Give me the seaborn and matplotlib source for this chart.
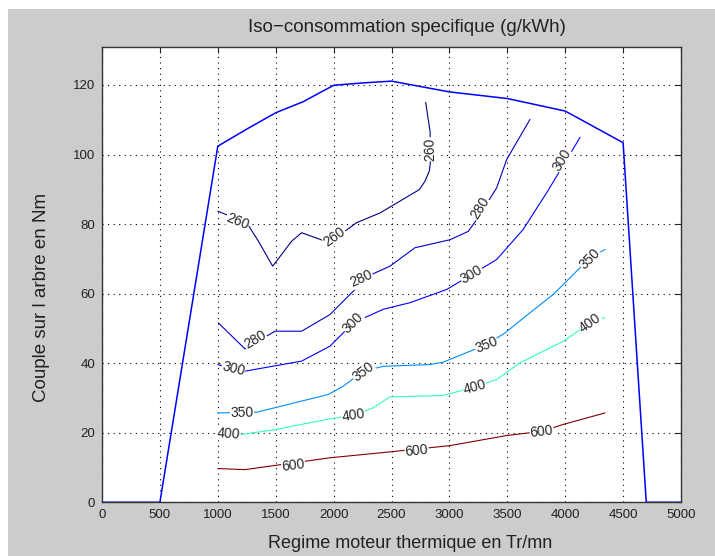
import numpy as np
import pandas as pd
import seaborn as sns
import matplotlib
matplotlib.use("Agg")
import matplotlib.pyplot as plt
from matplotlib.patches import Rectangle

# ---- data ----
# full load curve (couple max)
full_rpm = [0, 500, 1000, 1250, 1500, 1738, 2000, 2257, 2500, 3000, 3500, 4000, 4500, 4700, 5000]
full_nm = [0, 0, 102.4, 107.3, 112.0, 115.2, 119.9, 120.6, 121.1, 118.0, 116.1, 112.5, 103.4, 0, 0]

# iso-consumption lines (g/kWh)
levels = [260, 280, 300, 350, 400, 600]

rpm_260 = [1000, 1250, 1350, 1474, 1638, 1724, 1926, 2000, 2199, 2401, 2740, 2789, 2827, 2838, 2833, 2795]
nm_260 = [83.7, 80.4, 75.1, 67.9, 75.1, 77.5, 75.1, 75.6, 80.4, 83.2, 89.9, 92.3, 95.3, 98.6, 106.7, 115.0]

rpm_280 = [1004, 1235, 1494, 1724, 1969, 2185, 2228, 2487, 2703, 3005, 3163, 3236, 3408, 3495, 3696]
nm_280 = [51.6, 44.1, 49.2, 49.2, 54.0, 61.2, 64.0, 67.9, 73.2, 75.5, 77.9, 81.3, 90.4, 98.6, 110.1]

rpm_300 = [1000, 1235, 1724, 1969, 2170, 2429, 2660, 2977, 3408, 3638, 3840, 4128]
nm_300 = [39.6, 37.7, 40.6, 44.9, 51.6, 55.5, 57.4, 61.2, 69.8, 78.5, 89.0, 104.9]

rpm_350 = [1000, 1336, 1724, 1954, 2084, 2256, 2429, 2832, 2947, 3322, 3480, 3696, 3898, 4214, 4344]
nm_350 = [25.7, 25.9, 29.1, 31.0, 33.4, 37.7, 39.1, 39.6, 40.3, 45.4, 48.7, 54.5, 59.8, 70.3, 72.7]

rpm_400 = [1000, 1206, 1494, 1969, 2170, 2343, 2487, 2947, 3221, 3408, 3610, 3984, 4214, 4344]
nm_400 = [20.0, 19.5, 20.9, 24.0, 25.0, 27.2, 30.3, 30.7, 33.2, 35.3, 40.1, 46.3, 51.6, 53.1]

rpm_600 = [1000, 1235, 1494, 1969, 2487, 3005, 3495, 3797, 3984, 4344]
nm_600 = [9.7, 9.4, 10.6, 12.8, 14.5, 16.3, 19.2, 20.4, 22.4, 25.7]

# where the inline labels sit (rpm, Nm)
lab_260 = [(1170, 80.8), (2010, 76.3), (2836, 101.5)]
lab_280 = [(1320, 46.8), (2240, 64.3), (3262, 84.5)]
lab_300 = [(1134, 38.3), (2170, 51.6), (3190, 65.6), (3968, 98.5)]
lab_350 = [(1210, 25.8), (2256, 37.6), (3320, 45.2), (4214, 70.0)]
lab_400 = [(1095, 19.8), (2170, 25.0), (3221, 33.1), (4214, 51.6)]
lab_600 = [(1652, 10.6), (2718, 14.9), (3797, 20.4)]

iso = {
    260: (rpm_260, nm_260, lab_260),
    280: (rpm_280, nm_280, lab_280),
    300: (rpm_300, nm_300, lab_300),
    350: (rpm_350, nm_350, lab_350),
    400: (rpm_400, nm_400, lab_400),
    600: (rpm_600, nm_600, lab_600),
}

sns.set_style("white")
plt.rcParams['font.family'] = ['Liberation Sans', 'DejaVu Sans']

fig = plt.figure(figsize=(7.15, 5.56), dpi=100)
fig.patch.set_facecolor("white")
fig.add_artist(Rectangle((8 / 715, 0), 1, 1 - 9 / 556, transform=fig.transFigure,
                         facecolor="#cccccc", edgecolor="none", zorder=-10))

ax = fig.add_axes([102 / 715, 1 - 502.3 / 556, 579 / 715, 455.6 / 556])
ax.set_facecolor("white")
ax.set_xlim(0, 5000)
ax.set_ylim(0, 131)

# MATLAB jet colours for the levels
cmap = plt.get_cmap("jet")
norm = plt.Normalize(min(levels), max(levels))

sns.lineplot(x=full_rpm, y=full_nm, sort=False, estimator=None, color="#0000ff",
             linewidth=1.1, ax=ax, zorder=3)

for lev in levels:
    xs, ys, labs = iso[lev]
    sns.lineplot(x=xs, y=ys, sort=False, estimator=None, color=cmap(norm(lev)),
                 linewidth=0.8, ax=ax, zorder=3)


def line_angle(xs, ys, px, py):
    pts = ax.transData.transform(np.column_stack([xs, ys]))
    p = ax.transData.transform((px, py))
    best, ang = 1e9, 0
    for i in range(len(pts) - 1):
        a, b = pts[i], pts[i + 1]
        ab = b - a
        t = np.clip(np.dot(p - a, ab) / max(np.dot(ab, ab), 1e-9), 0, 1)
        d = np.hypot(*(a + t * ab - p))
        if d < best:
            best = d
            ang = np.degrees(np.arctan2(ab[1], ab[0]))
    if ang > 90:
        ang -= 180
    if ang < -90:
        ang += 180
    # nearly vertical: read bottom to top like the original
    if ang < -80:
        ang += 180
    return ang


for lev in levels:
    xs, ys, labs = iso[lev]
    for (lx, ly) in labs:
        ax.text(lx, ly, str(lev), fontsize=10, rotation=line_angle(xs, ys, lx, ly),
                rotation_mode="anchor", ha="center", va="center", zorder=5,
                bbox=dict(facecolor="white", edgecolor="none", pad=0.3))

ax.set_xticks(np.arange(0, 5001, 500))
ax.set_yticks(np.arange(0, 121, 20))
ax.grid(True, color="black", linestyle=(0, (1, 4)), linewidth=0.8)
ax.tick_params(direction="in", length=4, width=0.8, colors="#222222", labelsize=9.5,
               top=True, right=True, labeltop=False, labelright=False, pad=5)
for s in ax.spines.values():
    s.set_color("#333333")
    s.set_linewidth(1.0)
    s.set_visible(True)

ax.set_xlabel("")
ax.set_ylabel("")
fig.text(410 / 715, 1 - 543 / 556, "Regime moteur thermique en Tr/mn", ha="center", va="center",
         fontsize=13, color="#222222")
fig.text(42 / 715, 1 - 297 / 556, "Couple sur l arbre en Nm", ha="center", va="center",
         rotation=90, fontsize=13.5, color="#222222")
fig.text(407 / 715, 1 - 27 / 556, "Iso\u2212consommation specifique (g/kWh)", ha="center", va="center",
         fontsize=13.5, color="#222222")

fig.savefig("out.png", dpi=100)
